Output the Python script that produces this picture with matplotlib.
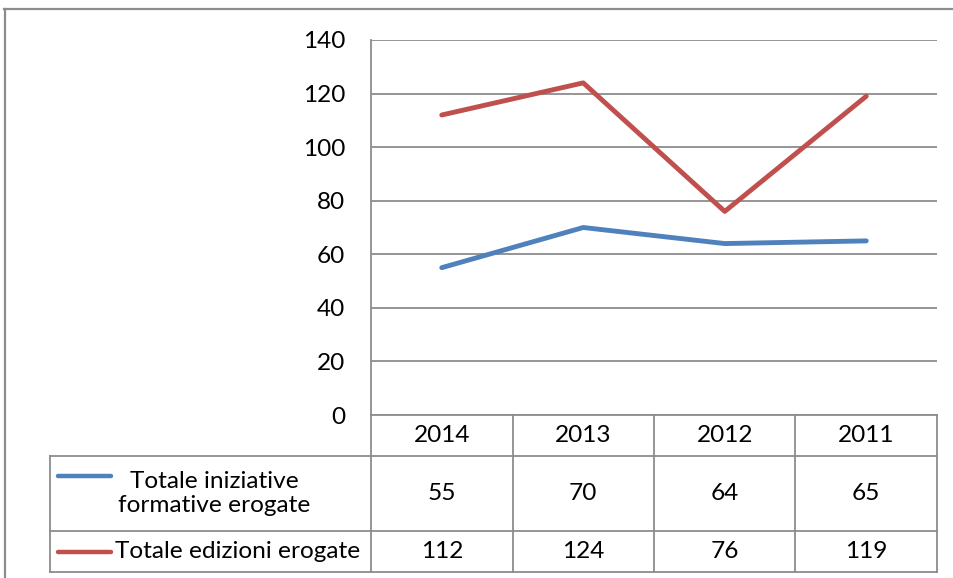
import matplotlib
matplotlib.use("Agg")
import matplotlib.pyplot as plt
from matplotlib.lines import Line2D

years = ["2014", "2013", "2012", "2011"]
series_names = ["Totale iniziative\nformative erogate", "Totale edizioni erogate"]
iniziative = [55, 70, 64, 65]
edizioni = [112, 124, 76, 119]
yticks = [0, 20, 40, 60, 80, 100, 120, 140]
colors = ["#4F81BD", "#C0504D"]

W, H = 954, 578
plt.rcParams['font.family'] = ['Lato', 'DejaVu Sans']
fig = plt.figure(figsize=(W / 100, H / 100), dpi=100)
GRAY = "#8c8c8c"
FS = 17.6


def fx(px):
    return px / W


def fy(py):
    return 1 - py / H


# plot area
L, R, T, B = 371, 937, 40, 415
ax = fig.add_axes([fx(L), fy(B), fx(R) - fx(L), fy(T) - fy(B)])
x = [i + 0.5 for i in range(len(years))]
ax.plot(x, iniziative, color=colors[0], lw=3.5, solid_capstyle="round", solid_joinstyle="round", zorder=3)
ax.plot(x, edizioni, color=colors[1], lw=3.5, solid_capstyle="round", solid_joinstyle="round", zorder=3)
ax.set_xlim(0, len(years))
ax.set_ylim(0, 140)
ax.set_yticks(yticks)
ax.set_yticklabels([str(v) for v in yticks], fontsize=FS)
ax.set_xticks([])
ax.tick_params(axis="y", length=0, pad=18.5)
ax.grid(axis="y", color=GRAY, lw=1.3)
ax.set_axisbelow(True)
for s in ["top", "right", "bottom"]:
    ax.spines[s].set_visible(False)
ax.spines["left"].set_color(GRAY)
ax.spines["left"].set_linewidth(1.3)


def hline(y, x0, x1, lw=1.3):
    fig.add_artist(Line2D([fx(x0), fx(x1)], [fy(y), fy(y)], color=GRAY, lw=lw, transform=fig.transFigure))


def vline(xp, y0, y1, lw=1.3):
    fig.add_artist(Line2D([fx(xp), fx(xp)], [fy(y0), fy(y1)], color=GRAY, lw=lw, transform=fig.transFigure))


# outer frame
hline(9, 4, W, lw=1.6)
vline(5, 9, H, lw=1.6)

# data table
TL = 50
rows = [415, 456, 531, 572]
cols = [L + (R - L) * i / len(years) for i in range(len(years) + 1)]
hline(415, L, R)
hline(456, TL, R)
hline(531, TL, R)
hline(572, TL, R)
vline(TL, 456, 572)
for c in cols:
    vline(c, 415, 572)

for i, yr in enumerate(years):
    cx = (cols[i] + cols[i + 1]) / 2
    fig.text(fx(cx), fy((rows[0] + rows[1]) / 2), yr, ha="center", va="center", fontsize=FS)
    fig.text(fx(cx), fy((rows[1] + rows[2]) / 2), str(iniziative[i]), ha="center", va="center", fontsize=FS)
    fig.text(fx(cx), fy((rows[2] + rows[3]) / 2), str(edizioni[i]), ha="center", va="center", fontsize=FS)

# legend keys
for k, (ry, tx, ha) in enumerate([((rows[1] + rows[2]) / 2, 214, "center"),
                                   ((rows[2] + rows[3]) / 2, 115, "left")]):
    ky = 476 if k == 0 else ry
    fig.add_artist(Line2D([fx(58), fx(111)], [fy(ky), fy(ky)], color=colors[k], lw=3.2,
                          solid_capstyle="round", transform=fig.transFigure))
    fig.text(fx(tx), fy(ry), series_names[k], ha=ha, va="center", fontsize=FS,
             multialignment="center", linespacing=1.2)

fig.savefig("out.png", dpi=100)
